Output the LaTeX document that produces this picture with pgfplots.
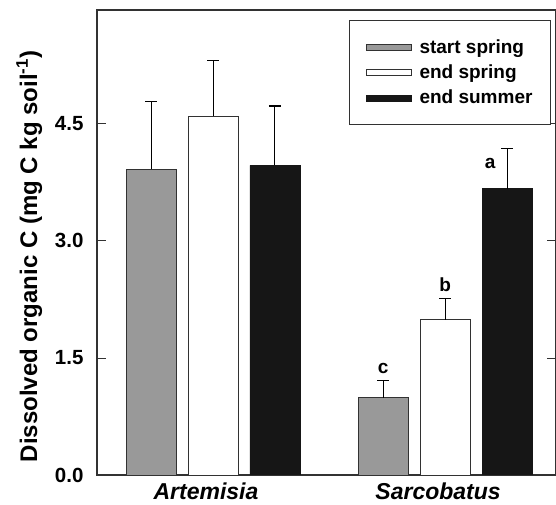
\documentclass[border=0pt]{standalone}
\usepackage{pgfplots}
\pgfplotsset{compat=1.18}
\usepackage{fontspec}
\setmainfont{Liberation Sans}
\definecolor{barGray}{RGB}{153,153,153}
\definecolor{barBlack}{RGB}{22,22,22}
\definecolor{axGray}{RGB}{50,50,50}
\begin{document}
\begin{tikzpicture}
\begin{axis}[
  scale only axis,
  width=459pt, height=465pt,
  xmin=-0.5, xmax=1.478,
  ymin=0, ymax=5.96,
  axis line style={draw=axGray, line width=1.1pt},
  xtick={0,1},
  xticklabels={Artemisia, Sarcobatus},
  x tick label style={font=\fontsize{23}{23}\selectfont\bfseries\itshape, yshift=5pt, xshift=-7pt},
  x tick style={draw=none},
  ytick={0,1.5,3,4.5},
  yticklabels={0.0,1.5,3.0,4.5},
  y tick label style={font=\fontsize{20.5}{20.5}\selectfont\bfseries, xshift=-10pt},
  /pgf/number format/assume math mode=true,
  tick align=inside,
  major tick length=9pt,
  y tick style={draw=axGray, line width=0.9pt},
  ytick pos=both,
  ylabel={Dissolved organic C (mg C kg soil\textsuperscript{-1})},
  ylabel style={at={(ticklabel cs:0.47)}, font=\fontsize{24}{24}\selectfont\bfseries, yshift=6pt},
  ybar, bar shift=0pt, bar width=0.2155,
  legend style={at={(0.989,0.978)}, anchor=north east, draw=axGray, line width=0.9pt,
    font=\fontsize{19}{19}\selectfont\bfseries, inner xsep=16pt, inner ysep=17pt,
    row sep=6pt, cells={anchor=west}},
  legend image code/.code={\draw[#1, line width=0.6pt] (0pt,-3pt) rectangle (45pt,3pt); \path (51pt,0pt);},
  error bars/error bar style={black, line width=1pt},
  error bars/error mark options={black, rotate=90, mark size=6pt, line width=1.2pt},
]
\addplot[fill=barGray, draw=axGray, line width=0.8pt,
  error bars/.cd, y dir=plus, y explicit]
  coordinates {(-0.267,3.92) +- (0,0.87) (0.733,0.99) +- (0,0.22)};
\addlegendentry{start spring}
\addplot[fill=white, draw=axGray, line width=0.8pt,
  error bars/.cd, y dir=plus, y explicit]
  coordinates {(0,4.60) +- (0,0.71) (1,1.99) +- (0,0.27)};
\addlegendentry{end spring}
\addplot[fill=barBlack, draw=barBlack, line width=0.8pt,
  error bars/.cd, y dir=plus, y explicit]
  coordinates {(0.267,3.97) +- (0,0.76) (1.267,3.67) +- (0,0.51)};
\addlegendentry{end summer}
\node[font=\fontsize{19}{19}\selectfont\bfseries, anchor=south, inner sep=0pt, yshift=7pt] at (axis cs:0.733,1.21) {c};
\node[font=\fontsize{19}{19}\selectfont\bfseries, anchor=south, inner sep=0pt, yshift=7pt] at (axis cs:1,2.26) {b};
\node[font=\fontsize{19}{19}\selectfont\bfseries, anchor=center, inner sep=0pt] at (axis cs:1.194,3.99) {a};
\coordinate (ll) at (rel axis cs:0,0);
\end{axis}
\pgfresetboundingbox
\path[use as bounding box] (ll) ++(-97pt,-30pt) rectangle ++(556pt,505pt);
\end{tikzpicture}
\end{document}
